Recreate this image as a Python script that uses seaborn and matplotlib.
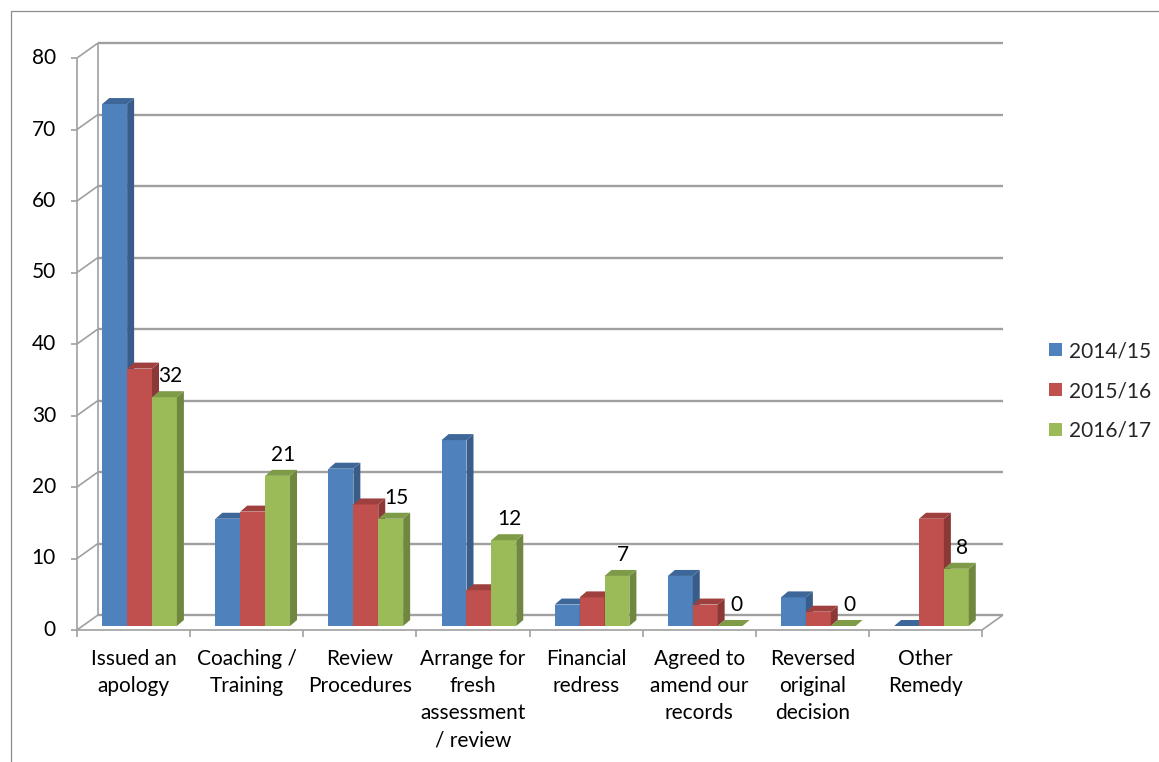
import numpy as np
import pandas as pd
import seaborn as sns
import matplotlib
matplotlib.use("Agg")
import matplotlib.pyplot as plt
import matplotlib.transforms as mtransforms
from matplotlib.patches import Polygon, Patch, Rectangle
from matplotlib.lines import Line2D

# ---------------- data ----------------
categories = [
    "Issued an\napology",
    "Coaching /\nTraining",
    "Review\nProcedures",
    "Arrange for\nfresh\nassessment\n/ review",
    "Financial\nredress",
    "Agreed to\namend our\nrecords",
    "Reversed\noriginal\ndecision",
    "Other\nRemedy",
]
years = ["2014/15", "2015/16", "2016/17"]
values_2014_15 = [73, 15, 22, 26, 3, 7, 4, 0]
values_2015_16 = [36, 16, 17, 5, 4, 3, 2, 15]
values_2016_17 = [32, 21, 15, 12, 7, 0, 0, 8]
y_ticks = [0, 10, 20, 30, 40, 50, 60, 70, 80]
labelled_year = "2016/17"

# ---------------- style ----------------
front_colors = ["#4F81BD", "#C0504D", "#9BBB59"]
side_colors = ["#385D8A", "#8C3836", "#6F873F"]
top_colors = ["#3E6799", "#9E403D", "#7E9B48"]
grid_color = "#A0A0A0"
FONT = ["Lato", "DejaVu Sans"]

sns.set_style("white")
plt.rcParams["font.family"] = FONT

df = pd.DataFrame({
    "category": categories * 3,
    "year": np.repeat(years, len(categories)),
    "value": values_2014_15 + values_2015_16 + values_2016_17,
})

W, H = 1159, 762
fig = plt.figure(figsize=(W / 100, H / 100), dpi=100)
fig.patch.set_facecolor("white")
# axes = plane of the bar front faces
ax = fig.add_axes([83 / W, 1 - 626 / H, 905 / W, 572 / H])

sns.barplot(data=df, x="category", y="value", hue="year", order=categories,
            hue_order=years, palette=front_colors, width=0.66, gap=0,
            saturation=1, linewidth=0, errorbar=None, legend=False, ax=ax)
ax.set_xlim(-0.5, len(categories) - 0.5)
ax.set_ylim(y_ticks[0], y_ticks[-1])
ax.axis("off")

# 3D offsets in pixels (display coords, y up)
FRONT = (-6, -4)
BACK = (15, 11)
DEPTH = (7, 6)
IDT = mtransforms.IdentityTransform()


def disp(x, y, off=(0, 0)):
    p = ax.transData.transform((x, y))
    return p[0] + off[0], p[1] + off[1]


def line(p1, p2, color=grid_color, lw=1.2, z=0.5):
    ax.add_line(Line2D([p1[0], p2[0]], [p1[1], p2[1]], transform=IDT,
                       color=color, lw=lw, zorder=z, clip_on=False,
                       solid_capstyle="butt"))


x0, x1 = ax.get_xlim()

# back wall gridlines + left wall diagonals
for v in y_ticks:
    line(disp(x0, v, BACK), disp(x1, v, BACK), lw=1.7, z=0.5)
    line(disp(x0, v, FRONT), disp(x0, v, BACK), lw=1.2, z=0.5)
# back wall left edge
line(disp(x0, y_ticks[0], BACK), disp(x0, y_ticks[-1], BACK), lw=1.2, z=0.5)
# floor right edge
line(disp(x1, 0, FRONT), disp(x1, 0, BACK), lw=1.2, z=0.5)

# front axes
line(disp(x0, y_ticks[0], FRONT), disp(x0, y_ticks[-1], FRONT), lw=1.2, z=3)
line(disp(x0, 0, FRONT), disp(x1, 0, FRONT), lw=1.2, z=3)
for v in y_ticks:
    px, py = disp(x0, v, FRONT)
    line((px - 6, py), (px, py), lw=1.2, z=3)
    ax.text(px - 21, py, str(v), transform=IDT, ha="right", va="center",
            fontsize=15, color="black")
for b in np.arange(x0, x1 + 0.01, 1.0):
    px, py = disp(b, 0, FRONT)
    line((px, py), (px, py - 7), lw=1.2, z=3)
for i, c in enumerate(categories):
    px, py = disp(i, 0, FRONT)
    ax.text(px, py - 19, c, transform=IDT, ha="center", va="top",
            fontsize=15, linespacing=1.45, color="black")

# 3D faces for bars
for hi, cont in enumerate(ax.containers):
    z = 2 + hi * 0.1
    for bar in cont:
        bar.set_zorder(z)
        bx, bw, bh = bar.get_x(), bar.get_width(), bar.get_height()
        bl = disp(bx, 0)
        br = disp(bx + bw, 0)
        tl = disp(bx, bh)
        tr = disp(bx + bw, bh)
        dx, dy = DEPTH
        side = [br, tr, (tr[0] + dx, tr[1] + dy), (br[0] + dx, br[1] + dy)]
        top = [tl, tr, (tr[0] + dx, tr[1] + dy), (tl[0] + dx, tl[1] + dy)]
        ax.add_patch(Polygon(side, closed=True, transform=IDT, facecolor=side_colors[hi],
                             edgecolor="none", zorder=z + 0.01, clip_on=False))
        ax.add_patch(Polygon(top, closed=True, transform=IDT, facecolor=top_colors[hi],
                             edgecolor="none", zorder=z + 0.01, clip_on=False))
        if years[hi] == labelled_year:
            cx, cy = disp(bx + bw / 2, bh)
            ax.text(cx + 6, cy + 21, f"{bh:.0f}", transform=IDT, ha="center",
                    va="center", fontsize=15, color="black", zorder=5)

# legend
handles = [Patch(facecolor=c, edgecolor="none", label=y) for c, y in zip(front_colors, years)]
fig.legend(handles=handles, loc="center left", bbox_to_anchor=(1049 / W, 1 - 391 / H),
           frameon=False, fontsize=15, handlelength=0.6, handleheight=0.6,
           handletextpad=0.35, labelspacing=0.95, borderaxespad=0, borderpad=0)

# chart border (only top/left visible in the reference)
fig.add_artist(Rectangle((10.5 / W, -0.05), 1.2, 1.05 - 10.5 / H, transform=fig.transFigure,
                         fill=False, edgecolor="#8C8C8C", lw=0.9))

fig.savefig("out.png", dpi=100)
